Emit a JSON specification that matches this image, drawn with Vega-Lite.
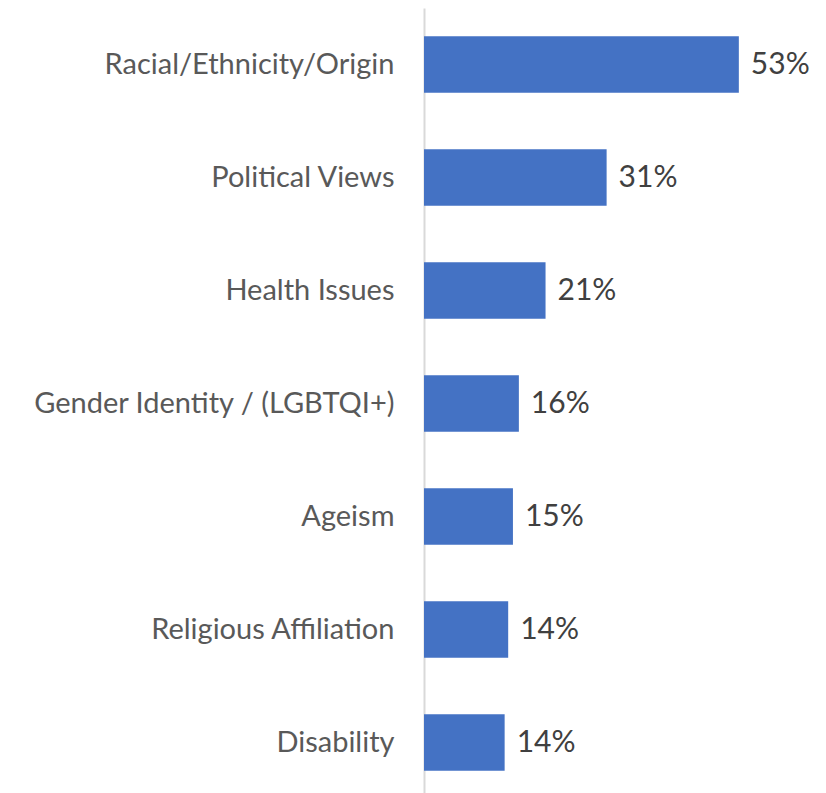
{
  "$schema": "https://vega.github.io/schema/vega-lite/v6.json",
  "autosize": "none",
  "width": 402,
  "height": 791,
  "padding": {"left": 424, "top": 8, "right": 0, "bottom": 0},
  "background": "white",
  "config": {"view": {"stroke": null}},
  "data": {
    "values": [
      {"category": "Racial/Ethnicity/Origin", "value": 0.531},
      {"category": "Political Views", "value": 0.308},
      {"category": "Health Issues", "value": 0.205},
      {"category": "Gender Identity / (LGBTQI+)", "value": 0.160},
      {"category": "Ageism", "value": 0.150},
      {"category": "Religious Affiliation", "value": 0.142},
      {"category": "Disability", "value": 0.136}
    ]
  },
  "encoding": {
    "y": {
      "field": "category",
      "type": "nominal",
      "sort": null,
      "scale": {"paddingInner": 0.5, "paddingOuter": 0.25},
      "axis": {
        "title": null,
        "ticks": false,
        "labelPadding": 30,
        "labelFont": "Lato",
        "labelFontSize": 29,
        "labelColor": "#595959",
        "labelLimit": 500,
        "domainColor": "#d9d9d9",
        "domainWidth": 2
      }
    },
    "x": {
      "field": "value",
      "type": "quantitative",
      "scale": {"domain": [0, 0.678], "nice": false},
      "axis": null
    }
  },
  "layer": [
    {"mark": {"type": "bar", "color": "#4472C4"}},
    {
      "mark": {"type": "text", "align": "left", "baseline": "middle", "dx": 12, "font": "Lato", "fontSize": 30, "color": "#404040"},
      "encoding": {"text": {"field": "value", "type": "quantitative", "format": ".0%"}}
    }
  ]
}
